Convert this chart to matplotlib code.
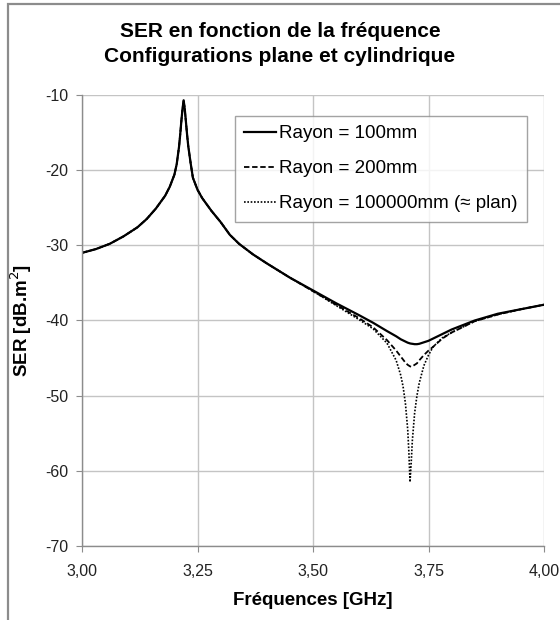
"""
SER en fonction de la fréquence - configurations plane et cylindrique
"""

import matplotlib
matplotlib.use("Agg")
import matplotlib.pyplot as plt
from matplotlib.patches import Rectangle
from matplotlib.ticker import FuncFormatter

plt.rcParams["font.family"] = ["Liberation Sans", "DejaVu Sans"]
plt.rcParams["axes.unicode_minus"] = False

# ===================== données =====================
freq = [3.00, 3.03, 3.06, 3.09, 3.12, 3.14, 3.16, 3.18, 3.19, 3.20, 3.205,
        3.21, 3.2125, 3.215, 3.2175, 3.22, 3.2225, 3.225, 3.2275, 3.23, 3.235,
        3.24, 3.25, 3.26, 3.28, 3.30, 3.32, 3.34, 3.37, 3.40, 3.45,
        3.50, 3.55, 3.60, 3.63, 3.66, 3.68, 3.69, 3.695, 3.70, 3.705, 3.7075,
        3.71, 3.7125, 3.715, 3.72, 3.725, 3.73, 3.74, 3.75, 3.76, 3.78, 3.80,
        3.85, 3.90, 3.95, 4.00]

# partie commune aux trois courbes (3,00 -> 3,45 GHz)
common = [-31.0, -30.5, -29.8, -28.8, -27.6, -26.5, -25.1, -23.4, -22.2, -20.6,
          -19.2, -16.9, -15.3, -13.5, -11.9, -10.7, -11.9, -13.6, -15.3, -16.8,
          -19.0, -21.0, -22.6, -23.7, -25.4, -26.9, -28.6, -29.8, -31.2, -32.4,
          -34.3]

ser_r100 = common + [-36.0, -37.7, -39.3, -40.3, -41.4, -42.1, -42.5, -42.65,
                     -42.8, -42.95, -43.0, -43.05, -43.08, -43.1, -43.15, -43.15,
                     -43.1, -42.9, -42.7, -42.4, -41.8, -41.2, -40.0, -39.1,
                     -38.5, -37.9]
ser_r200 = common + [-36.1, -37.9, -39.7, -40.9, -42.6, -44.0, -44.8, -45.2,
                     -45.6, -45.9, -46.0, -46.1, -46.15, -46.1, -45.9, -45.7,
                     -45.3, -44.6, -44.0, -43.5, -42.4, -41.6, -40.1, -39.2,
                     -38.5, -37.9]
ser_plan = common + [-36.1, -38.0, -39.9, -41.1, -43.0, -45.3, -47.3, -48.8,
                     -51.0, -54.5, -57.5, -61.5, -59.0, -56.0, -52.3, -50.0,
                     -48.3, -46.0, -44.6, -43.5, -42.3, -41.6, -40.1, -39.2,
                     -38.5, -37.9]

labels = ["Rayon = 100mm", "Rayon = 200mm", "Rayon = 100000mm (≈ plan)"]
x_ticks = [3.00, 3.25, 3.50, 3.75, 4.00]
y_ticks = [-70, -60, -50, -40, -30, -20, -10]

# ===================== figure =====================
fig = plt.figure(figsize=(5.6, 6.2), dpi=100)
fig.patches.append(Rectangle((8 / 560, -0.1), 1.2, 1.1 - 4 / 620,
                             transform=fig.transFigure, fill=False,
                             edgecolor="#8c8c8c", linewidth=1.6))

ax = fig.add_axes([82 / 560, 1 - 546 / 620, 462 / 560, 451 / 620])
ax.plot(freq, ser_r100, color="black", linewidth=1.6, label=labels[0])
ax.plot(freq, ser_r200, color="black", linewidth=1.3, linestyle=(0, (3, 1.5)),
        label=labels[1])
ax.plot(freq, ser_plan, color="black", linewidth=1.2, linestyle=(0, (1, 1)),
        label=labels[2])

ax.set_xlim(3.0, 4.0)
ax.set_ylim(-70, -10)
ax.set_xticks(x_ticks)
ax.set_yticks(y_ticks)
ax.xaxis.set_major_formatter(FuncFormatter(lambda v, p: f"{v:.2f}".replace(".", ",")))
ax.grid(True, color="#c4c4c4", linewidth=1.0)
ax.set_axisbelow(True)
for side in ["top", "right"]:
    ax.spines[side].set_visible(False)
for side in ["left", "bottom"]:
    ax.spines[side].set_color("#8c8c8c")
    ax.spines[side].set_linewidth(1.0)
ax.tick_params(axis="both", direction="out", length=4, color="#8c8c8c",
               labelsize=11.5, labelcolor="#222222", pad=6)
ax.tick_params(axis="x", pad=9)

ax.set_xlabel("Fréquences [GHz]", fontsize=13.5, fontweight="bold", labelpad=9)
ax.set_ylabel("SER [dB.m$^2$]", fontsize=13.5, fontweight="bold", labelpad=8)
fig.text(0.5, 1 - 44 / 620, "SER en fonction de la fréquence\nConfigurations plane et cylindrique",
         ha="center", va="center", fontsize=15, fontweight="bold", linespacing=1.45)

leg = ax.legend(loc="upper right", bbox_to_anchor=(527 / 560, 1 - 116 / 620),
                bbox_transform=fig.transFigure, fontsize=13.5, frameon=True,
                fancybox=False, edgecolor="#8c8c8c", handlelength=1.7,
                handletextpad=0.15, labelspacing=0.95, borderpad=0.5,
                borderaxespad=0)
leg.get_frame().set_linewidth(1.0)

fig.savefig("out.png", dpi=100)
